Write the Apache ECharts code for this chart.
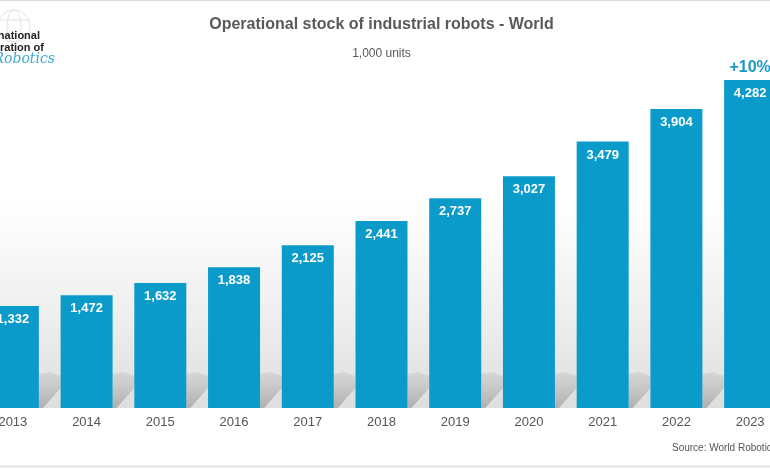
<!DOCTYPE html>
<html><head><meta charset="utf-8">
<script src="https://cdn.jsdelivr.net/npm/echarts@6/dist/echarts.min.js"></script>
<style>html,body{margin:0;padding:0;background:#fff;overflow:hidden;width:770px;height:470px}#c{position:absolute;left:-24px;top:0;width:811px;height:470px}</style>
</head><body><div id="c"></div>
<script>
var years = ['2013','2014','2015','2016','2017','2018','2019','2020','2021','2022','2023'];
var stock = [1332,1472,1632,1838,2125,2441,2737,3027,3479,3904,4282];
var growthLabel = '+10%';
var titleText = 'Operational stock of industrial robots - World';
var subtitleText = '1,000 units';
var sourceText = 'Source: World Robotics';

var font = 'Liberation Sans, Arial, sans-serif';
var chart = echarts.init(document.getElementById('c'));
var BAR_W = 52;
var OX = 24; // page offset of the canvas

chart.setOption({
  backgroundColor: '#ffffff',
  animation: false,
  textStyle: {fontFamily: font},
  title: [
    {text: titleText, left: 'center', top: 12, textStyle: {fontSize: 16, fontWeight: 'bold', color: '#595959', fontFamily: font}},
    {text: subtitleText, left: 'center', top: 43, textStyle: {fontSize: 12, fontWeight: 'normal', color: '#595959', fontFamily: font}}
  ],
  grid: {left: 0, right: 0, top: 80, bottom: 62, containLabel: false},
  xAxis: {
    type: 'category', data: years,
    axisLine: {show: false}, axisTick: {show: false},
    axisLabel: {color: '#555', fontSize: 13, margin: 8, fontFamily: font}
  },
  yAxis: {type: 'value', min: 0, max: 4282, show: false, splitLine: {show: false}},
  graphic: [
    {type: 'rect', z: -10, silent: true, shape: {x: 0, y: 200, width: 811, height: 208},
     style: {fill: new echarts.graphic.LinearGradient(0, 0, 0, 1, [
       {offset: 0, color: 'rgba(228,228,228,0)'}, {offset: 1, color: 'rgba(222,222,222,1)'}])}},
    {type: 'line', shape: {x1: 0, y1: 0.5, x2: 811, y2: 0.5}, style: {stroke: '#d9d9d9', lineWidth: 1}},
    {type: 'line', shape: {x1: 0, y1: 466.5, x2: 811, y2: 466.5}, style: {stroke: '#e3e3e3', lineWidth: 2}},
    {type: 'circle', shape: {cx: OX + 14, cy: 26, r: 16}, style: {fill: 'none', stroke: '#dde4ea', lineWidth: 1}},
    {type: 'ellipse', shape: {cx: OX + 14, cy: 26, rx: 7, ry: 16}, style: {fill: 'none', stroke: '#dde4ea', lineWidth: 1}},
    {type: 'line', shape: {x1: OX - 2, y1: 20, x2: OX + 30, y2: 20}, style: {stroke: '#dde4ea', lineWidth: 1}},
    {type: 'text', right: 811 - (OX + 40), top: 30, style: {text: 'International', fontSize: 11, fontWeight: 'bold', fill: '#222', fontFamily: font}},
    {type: 'text', right: 811 - (OX + 44), top: 42, style: {text: 'Federation of', fontSize: 11, fontWeight: 'bold', fill: '#222', fontFamily: font}},
    {type: 'text', right: 811 - (OX + 55), top: 52, style: {text: 'Robotics', fontSize: 14, fontStyle: 'italic', fill: '#3fa9d1', fontFamily: 'DejaVu Serif, serif'}},
    {type: 'text', left: OX + 672, top: 443, style: {text: sourceText, font: '10px "Liberation Sans", Arial, sans-serif', fontSize: 10, fill: '#555'}}
  ],
  series: [
    {
      type: 'custom', z: 1, silent: true,
      data: stock.map(function (v, i) { return [i, v]; }),
      renderItem: function (params, api) {
        var p = api.coord([api.value(0), 0]);
        var gap = api.size([1, 0])[0] - BAR_W;
        var xr = p[0] + BAR_W / 2, xn = xr + gap, yb = p[1];
        return {
          type: 'polygon',
          shape: {points: [[xr, yb - 34], [xr + gap * 0.5, yb - 36], [xn, yb - 32], [xn, yb - 20], [xr + 4, yb], [xr, yb]]},
          style: {fill: new echarts.graphic.LinearGradient(0, 0, 0, 1, [
            {offset: 0, color: 'rgba(205,205,205,0.6)'}, {offset: 1, color: 'rgba(175,175,175,1)'}])}
        };
      }
    },
    {
      type: 'bar', z: 2, data: stock, barWidth: BAR_W,
      itemStyle: {color: '#0a9bcb'},
      label: {show: true, position: 'insideTop', distance: 7, color: '#fff', fontWeight: 'bold', fontSize: 13, fontFamily: font,
        formatter: function (p) { return p.value.toLocaleString('en-US'); }},
      markPoint: {
        symbol: 'circle', symbolSize: 0,
        data: [{coord: [years.length - 1, stock[stock.length - 1]], value: growthLabel}],
        label: {show: true, position: 'top', distance: 4, formatter: growthLabel, color: '#1a98c4', fontWeight: 'bold', fontSize: 16, fontFamily: font}
      }
    }
  ]
});
</script></body></html>
